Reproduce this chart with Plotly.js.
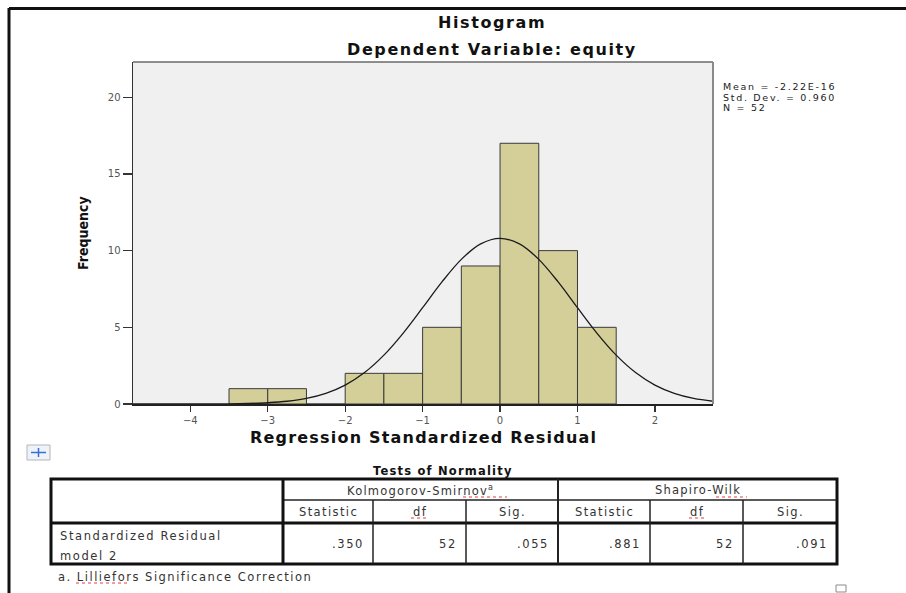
<!DOCTYPE html>
<html>
<head>
<meta charset="utf-8">
<script src="https://cdn.plot.ly/plotly-3.0.1.min.js"></script>
<style>
  html, body { margin: 0; padding: 0; background: #fff; }
  #chart { width: 906px; height: 593px; }
</style>
</head>
<body>
<div id="chart"></div>
<script>
// ---------------- data ----------------
const binLeftEdges = [-3.5, -3, -2.5, -2, -1.5, -1, -0.5, 0, 0.5, 1];
const binCounts    = [1, 1, 0, 2, 2, 5, 9, 17, 10, 5];
const binWidth = 0.5;

// normal curve
const curveX = [-4.75,-4.5,-4.25,-4,-3.75,-3.5,-3.25,-3,-2.75,-2.5,-2.25,-2,-1.75,-1.5,-1.25,-1,-0.75,-0.5,-0.25,0,0.25,0.5,0.75,1,1.25,1.5,1.75,2,2.25,2.5,2.75];
const curveY = [0,0,0.001,0.002,0.005,0.014,0.035,0.082,0.178,0.364,0.693,1.233,2.05,3.186,4.627,6.278,7.96,9.431,10.44,10.8,10.44,9.431,7.96,6.278,4.627,3.186,2.05,1.233,0.693,0.364,0.178];

const xTickVals = [-4, -3, -2, -1, 0, 1, 2];
const yTickVals = [0, 5, 10, 15, 20];

const chartTitle = 'Histogram';
const chartSubtitle = 'Dependent Variable: equity';
const xTitle = 'Regression Standardized Residual';
const yTitle = 'Frequency';
const statsLines = ['Mean = -2.22E-16', 'Std. Dev. = 0.960', 'N = 52'];

const tableTitle = 'Tests of Normality';
const testNames = ['Kolmogorov-Smirnov<sup>a</sup>', 'Shapiro-Wilk'];
const subHeaders = ['Statistic', 'df', 'Sig.', 'Statistic', 'df', 'Sig.'];
const rowLabel = ['Standardized Residual', 'model 2'];
const rowValues = ['.350', '52', '.055', '.881', '52', '.091'];
const footnote = 'a. Lilliefors Significance Correction';

// ---------------- layout helpers ----------------
const W = 906, H = 593;
const M = {l: 133, r: 193, t: 62, b: 189};
const PW = W - M.l - M.r, PH = H - M.t - M.b;
const X = px => (px - M.l) / PW;
const Y = py => (H - M.b - py) / PH;
const sp = (s, ls) => `<span style="letter-spacing:${ls}px">${s}</span>`;

const FONT = 'DejaVu Sans, Liberation Sans, Arial, sans-serif';
const annotations = [];
function txt(s, px, py, opt) {
  opt = opt || {};
  annotations.push({
    text: sp(s, opt.ls == null ? 2 : opt.ls),
    xref: 'paper', yref: 'paper', x: X(px), y: Y(py),
    xanchor: opt.xa || 'center', yanchor: 'middle', showarrow: false,
    textangle: opt.angle || 0, borderpad: 0,
    font: {family: opt.family || FONT, size: opt.size || 11, color: opt.color || '#333',
           weight: opt.bold ? 'bold' : 'normal'}
  });
}
const shapes = [];
function line(x0, y0, x1, y1, color, width, dash) {
  shapes.push({type: 'line', xref: 'paper', yref: 'paper', x0: X(x0), y0: Y(y0), x1: X(x1), y1: Y(y1),
               line: {color: color, width: width, dash: dash || 'solid'}});
}
function rect(x0, y0, x1, y1, color, width, fill) {
  shapes.push({type: 'rect', xref: 'paper', yref: 'paper', x0: X(x0), y0: Y(y0), x1: X(x1), y1: Y(y1),
               line: {color: color, width: width}, fillcolor: fill || 'rgba(0,0,0,0)'});
}

// page frame
line(9, 8.5, 906, 8.5, '#111', 3);
line(9, 8, 9, 593, '#111', 3);

// plot frame top / right
line(133, 62, 713, 62, '#6a6a6a', 1.5);
line(713, 62, 713, 404, '#8a8a8a', 2);

// titles
txt(chartTitle, 492, 22, {size: 16, bold: true, color: '#111', ls: 1.6});
txt(chartSubtitle, 492, 50, {size: 16, bold: true, color: '#111', ls: 1.6});
txt(xTitle, 423, 437, {size: 16, bold: true, color: '#111', ls: 1.2});
txt(yTitle, 83, 233, {size: 14, bold: true, color: '#111', ls: 0, angle: -90,
  family: 'Liberation Sans Narrow, DejaVu Sans Condensed, Arial Narrow, sans-serif'});

// stats
statsLines.forEach((s, i) => txt(s, 722, 86.5 + i * 10.5, {size: 9.5, xa: 'left', ls: 1.7, color: '#222'}));

// move icon
rect(27, 445, 50, 460, '#b5b5b5', 1, '#eef2fa');
line(31, 452.5, 46, 452.5, '#3a6fd0', 1.5);
line(38.5, 448, 38.5, 457, '#3a6fd0', 1.5);

// table
txt(tableTitle, 443, 471, {size: 11.5, bold: true, color: '#111', ls: 1.2});
const colEdges = [51, 283, 373, 466, 558, 650, 743, 837];
const rowEdges = [479, 500, 523, 564];
rect(colEdges[0], rowEdges[0], colEdges[7], rowEdges[3], '#111', 3);
line(colEdges[1], rowEdges[1], colEdges[7], rowEdges[1], '#222', 1.5);
line(colEdges[0], rowEdges[2], colEdges[7], rowEdges[2], '#111', 3);
line(colEdges[1], rowEdges[0], colEdges[1], rowEdges[3], '#111', 3);
line(colEdges[4], rowEdges[0], colEdges[4], rowEdges[3], '#222', 2);
[2, 3, 5, 6].forEach(i => line(colEdges[i], rowEdges[1], colEdges[i], rowEdges[3], '#222', 1.5));

txt(testNames[0], (colEdges[1] + colEdges[4]) / 2, 490, {size: 11.5, ls: 1.2});
txt(testNames[1], (colEdges[4] + colEdges[7]) / 2, 490, {size: 11.5, ls: 1.2});
subHeaders.forEach((s, i) => txt(s, (colEdges[i + 1] + colEdges[i + 2]) / 2, 512, {size: 11.5, ls: 1.4}));
txt(rowLabel[0], 59, 536, {xa: 'left', size: 11.5, ls: 1.6});
txt(rowLabel[1], 59, 556, {xa: 'left', size: 11.5, ls: 1.6});
rowValues.forEach((s, i) => txt(s, colEdges[i + 2] - 8, 544, {xa: 'right', size: 11.5, ls: 1.6}));
txt(footnote, 57, 577, {xa: 'left', size: 11.5, ls: 1.5});

// spell-check marks
line(463, 497, 507, 497, '#e04040', 1, 'dot');
line(411, 518, 427, 518, '#e04040', 1, 'dot');
line(689, 518, 705, 518, '#e04040', 1, 'dot');
line(716, 497, 747, 497, '#e04040', 1, 'dot');
line(76, 583, 130, 583, '#e04040', 1, 'dot');

// little square
rect(836, 585, 846, 592, '#8a8a8a', 1);

// ---------------- traces ----------------
const bars = {
  type: 'bar', x: binLeftEdges, y: binCounts, width: binWidth, offset: 0,
  marker: {color: '#d4cf98', line: {color: '#3a3a3a', width: 1}},
  hoverinfo: 'skip'
};
const curve = {
  type: 'scatter', mode: 'lines', x: curveX, y: curveY,
  line: {color: '#1a1a1a', width: 1.3, shape: 'spline'}, hoverinfo: 'skip'
};

const layout = {
  width: W, height: H,
  margin: M,
  paper_bgcolor: '#ffffff',
  plot_bgcolor: '#f0f0f0',
  showlegend: false,
  bargap: 0,
  xaxis: {
    range: [-4.74, 2.75], tickvals: xTickVals, ticks: 'outside', ticklen: 6, tickwidth: 1.2,
    tickcolor: '#333', showline: true, linecolor: '#222', linewidth: 1.5, showgrid: false, zeroline: false,
    tickfont: {family: FONT, size: 10, color: '#555'}, fixedrange: true
  },
  yaxis: {
    range: [0, 22.3], tickvals: yTickVals, ticks: 'outside', ticklen: 9, tickwidth: 1.2,
    tickcolor: '#333', showline: true, linecolor: '#333', linewidth: 1.5, showgrid: false, zeroline: false,
    tickfont: {family: FONT, size: 10, color: '#555'}, fixedrange: true
  },
  shapes: shapes,
  annotations: annotations
};

Plotly.newPlot('chart', [bars, curve], layout, {displayModeBar: false, staticPlot: true});
</script>
</body>
</html>
